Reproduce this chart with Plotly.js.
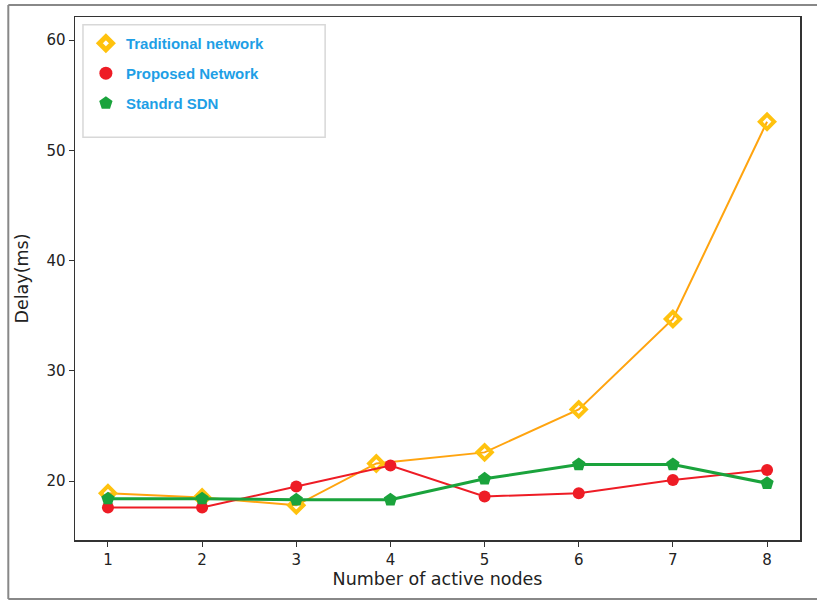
<!DOCTYPE html>
<html>
<head>
<meta charset="utf-8">
<script src="https://cdn.plot.ly/plotly-3.0.1.min.js"></script>
<style>html,body{margin:0;padding:0;background:#fff;}#chart{width:817px;height:601px;}</style>
</head>
<body>
<div id="chart"></div>
<script>
// Data
const xTraditional = [1, 2, 3, 3.85, 5, 6, 7, 8];
const yTraditional = [18.9, 18.5, 17.8, 21.6, 22.6, 26.5, 34.7, 52.6];
const xProposed = [1, 2, 3, 4, 5, 6, 7, 8];
const yProposed = [17.6, 17.6, 19.5, 21.4, 18.6, 18.9, 20.1, 21.0];
const xSDN = [1, 2, 3, 4, 5, 6, 7, 8];
const ySDN = [18.4, 18.4, 18.3, 18.3, 20.2, 21.5, 21.5, 19.8];
const seriesNames = ["Traditional network", "Proposed Network", "Standrd SDN"];
const xTicks = [1, 2, 3, 4, 5, 6, 7, 8];
const yTicks = [20, 30, 40, 50, 60];

const cTradLine = "#FFA40F", cTradMark = "#FFC20E";
const cProp = "#EE1C25";
const cSDN = "#1AA33C";

const traces = [
  {x: xTraditional, y: yTraditional, mode: "lines+markers", showlegend: false,
   line: {color: cTradLine, width: 2},
   marker: {symbol: "diamond-open", size: 11, color: cTradMark, line: {width: 4, color: cTradMark}}},
  {x: xProposed, y: yProposed, mode: "lines+markers", showlegend: false,
   line: {color: cProp, width: 2},
   marker: {symbol: "circle", size: 12, color: cProp}},
  {x: xSDN, y: ySDN, mode: "lines+markers", showlegend: false,
   line: {color: cSDN, width: 3},
   marker: {symbol: "pentagon", size: 14, color: cSDN}},
  // legend entries (markers only, as in the reference)
  {x: [null], y: [null], mode: "markers", name: seriesNames[0], legendgroup: "a",
   marker: {symbol: "diamond-open", size: 10, color: cTradMark, line: {width: 5, color: cTradMark}}},
  {x: [null], y: [null], mode: "markers", name: seriesNames[1], legendgroup: "b",
   marker: {symbol: "circle", size: 13, color: cProp}},
  {x: [null], y: [null], mode: "markers", name: seriesNames[2], legendgroup: "c",
   marker: {symbol: "pentagon", size: 14, color: cSDN}}
];

const axisFont = {family: "DejaVu Sans", size: 15, color: "#222"};
const titleFont = {family: "DejaVu Sans", size: 17.5, color: "#222"};

const layout = {
  width: 817, height: 601,
  margin: {l: 75, r: 17, t: 17, b: 61},
  paper_bgcolor: "#fff", plot_bgcolor: "#fff",
  showlegend: true,
  legend: {
    x: 0.015, y: 0.981, xanchor: "left", yanchor: "top",
    bgcolor: "rgba(0,0,0,0)", borderwidth: 0,
    tracegroupgap: 7.5, traceorder: "grouped",
    font: {family: "Liberation Sans", size: 15, color: "#1E9FE6", weight: "bold"},
    itemwidth: 30
  },
  xaxis: {
    range: [0.65, 8.35], tickvals: xTicks, ticktext: xTicks.map(String),
    showgrid: false, zeroline: false, showline: true, mirror: true,
    linecolor: "#333", linewidth: 1.5, ticks: "outside", ticklen: 5, tickcolor: "#333",
    tickfont: axisFont,
    title: {text: "Number of active nodes", font: titleFont, standoff: 4}
  },
  yaxis: {
    range: [14.65, 62.1], tickvals: yTicks, ticktext: yTicks.map(String),
    showgrid: false, zeroline: false, showline: true, mirror: true,
    linecolor: "#333", linewidth: 1.5, ticks: "outside", ticklen: 5, tickcolor: "#333",
    tickfont: axisFont,
    title: {text: "Delay(ms)", font: titleFont, standoff: 13}
  },
  shapes: [
    // legend box
    {type: "rect", xref: "paper", yref: "paper", x0: 0.011, x1: 0.345, y0: 0.77, y1: 0.985,
     line: {color: "#D8D8D8", width: 1.5}, fillcolor: "rgba(255,255,255,0)", layer: "below"},
    // outer picture frame
    {type: "line", xref: "paper", yref: "paper", x0: -0.092, x1: 1.03, y0: 1.0229, y1: 1.0229,
     line: {color: "#888", width: 2}},
    {type: "line", xref: "paper", yref: "paper", x0: -0.092, x1: -0.092, y0: 1.0229, y1: -0.1128,
     line: {color: "#888", width: 2}},
    {type: "line", xref: "paper", yref: "paper", x0: -0.092, x1: 1.03, y0: -0.1128, y1: -0.1128,
     line: {color: "#888", width: 2}}
  ]
};

Plotly.newPlot("chart", traces, layout, {displayModeBar: false, staticPlot: true});
</script>
</body>
</html>
